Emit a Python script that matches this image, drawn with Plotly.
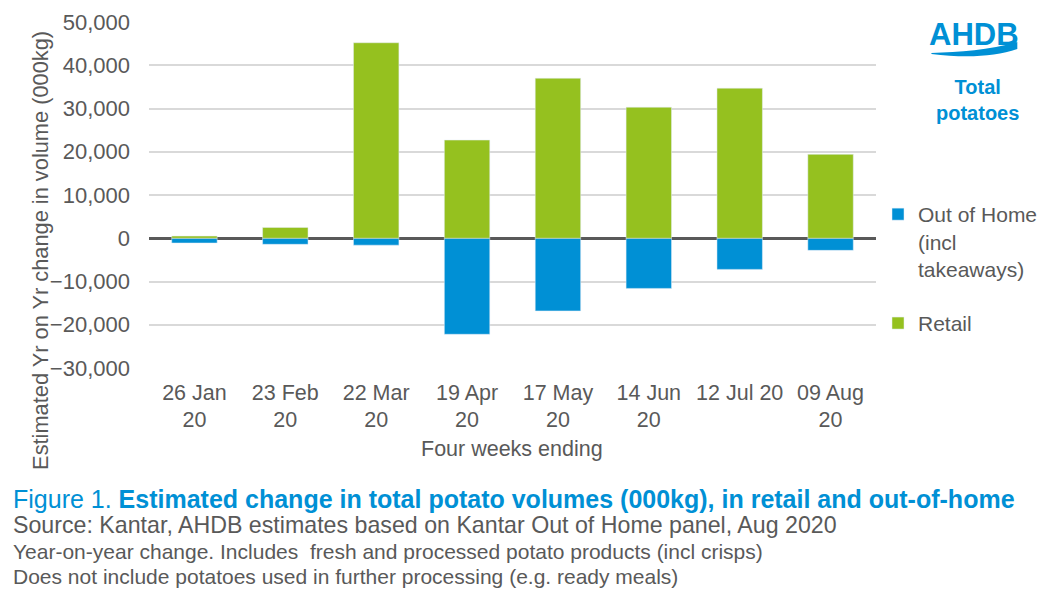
import plotly.graph_objects as go

categories = ["26 Jan<br>20", "23 Feb<br>20", "22 Mar<br>20", "19 Apr<br>20",
              "17 May<br>20", "14 Jun<br>20", "12 Jul 20", "09 Aug<br>20"]
out_of_home = [-1100, -1400, -1600, -22200, -16800, -11600, -7200, -2800]
retail = [500, 2500, 45200, 22700, 37000, 30300, 34700, 19400]
y_ticks = [-30000, -20000, -10000, 0, 10000, 20000, 30000, 40000, 50000]

# page has an 8px body margin: lay out in reference pixels, shifted by OFF
OFF = 8
W, H = 1046 - 2 * OFF, 599 - 2 * OFF
L, R, T, B = 148.5, 876.5, 22.0, 367.6   # plot area in reference pixels

def px(x):
    return (x - L) / (R - L)

def py(y):
    return (B - y) / (B - T)

GREY = "#595959"
BLUE = "#0090D5"
GREEN = "#95C11F"
FONT = "Liberation Sans, Arial, sans-serif"

fig = go.Figure()
fig.add_trace(go.Bar(x=categories, y=out_of_home, name="Out of Home<br>(incl<br>takeaways)",
                     marker_color=BLUE, legendgroup="a"))
fig.add_trace(go.Bar(x=categories, y=retail, name="Retail",
                     marker_color=GREEN, legendgroup="b"))

fig.update_layout(
    width=W, height=H,
    margin=dict(l=L - OFF, r=W - (R - OFF), t=T - OFF, b=H - (B - OFF), pad=0, autoexpand=False),
    barmode="relative", bargap=0.5,
    plot_bgcolor="white", paper_bgcolor="white",
    font=dict(family=FONT, size=21, color=GREY),
    showlegend=True,
    legend=dict(xref="container", yref="container",
                x=(878 - OFF) / W, y=1 - (194 - OFF) / H, xanchor="left", yanchor="top",
                traceorder="grouped", tracegroupgap=24, valign="top",
                font=dict(size=21, color=GREY), itemwidth=30,
                bgcolor="rgba(0,0,0,0)"),
    xaxis=dict(showgrid=False, ticks="", showline=False, automargin=False,
               tickfont=dict(size=21.5, color=GREY), ticklabelstandoff=9),
    yaxis=dict(range=[-30000, 50000], tickvals=y_ticks, tickformat=",",
               showgrid=True, gridcolor="#D9D9D9", gridwidth=2, automargin=False,
               zeroline=True, zerolinecolor=GREY, zerolinewidth=2.5,
               showline=False, ticks="", ticklabelstandoff=18,
               tickfont=dict(size=22, color=GREY)),
)

ann = [
    dict(text="Estimated Yr on Yr change in volume (000kg)", x=px(40), y=py(250),
         textangle=-90, font=dict(size=21.8, color=GREY)),
    dict(text="Four weeks ending", x=px(512), y=py(449), font=dict(size=21.5, color=GREY)),
    dict(text="<b>Total<br>potatoes</b>", x=px(978), y=py(100), font=dict(size=20, color=BLUE)),
    dict(text="<b>AHDB</b>", x=px(975), y=py(34), font=dict(size=31, color=BLUE)),
    dict(text="Figure 1. <b>Estimated change in total potato volumes (000kg), in retail and out-of-home</b>",
         x=px(10), y=py(498), xanchor="left", font=dict(size=25, color=BLUE)),
    dict(text="Source: Kantar, AHDB estimates based on Kantar Out of Home panel, Aug 2020",
         x=px(10), y=py(524), xanchor="left", font=dict(size=23.2, color=GREY)),
    dict(text="Year-on-year change. Includes  fresh and processed potato products (incl crisps)",
         x=px(10), y=py(551), xanchor="left", font=dict(size=21, color=GREY)),
    dict(text="Does not include potatoes used in further processing (e.g. ready meals)",
         x=px(10), y=py(576), xanchor="left", font=dict(size=21, color=GREY)),
]
for a in ann:
    a.setdefault("xref", "paper")
    a.setdefault("yref", "paper")
    a.setdefault("showarrow", False)
    a.setdefault("xanchor", "center")
    a.setdefault("yanchor", "middle")
    fig.add_annotation(**a)

# AHDB swoosh
pts_top = [(932, 53), (960, 52), (990, 50), (1018, 42)]
pts_bot = [(1018, 49), (995, 57), (965, 58), (932, 54)]
path = "M {} {} C {} {}, {} {}, {} {} L {} {} C {} {}, {} {}, {} {} Z".format(
    px(pts_top[0][0]), py(pts_top[0][1]),
    px(pts_top[1][0]), py(pts_top[1][1]),
    px(pts_top[2][0]), py(pts_top[2][1]),
    px(pts_top[3][0]), py(pts_top[3][1]),
    px(pts_bot[0][0]), py(pts_bot[0][1]),
    px(pts_bot[1][0]), py(pts_bot[1][1]),
    px(pts_bot[2][0]), py(pts_bot[2][1]),
    px(pts_bot[3][0]), py(pts_bot[3][1]),
)
fig.add_shape(type="path", path=path, xref="paper", yref="paper",
              fillcolor=BLUE, line=dict(width=0))

fig.write_html("out.html")
